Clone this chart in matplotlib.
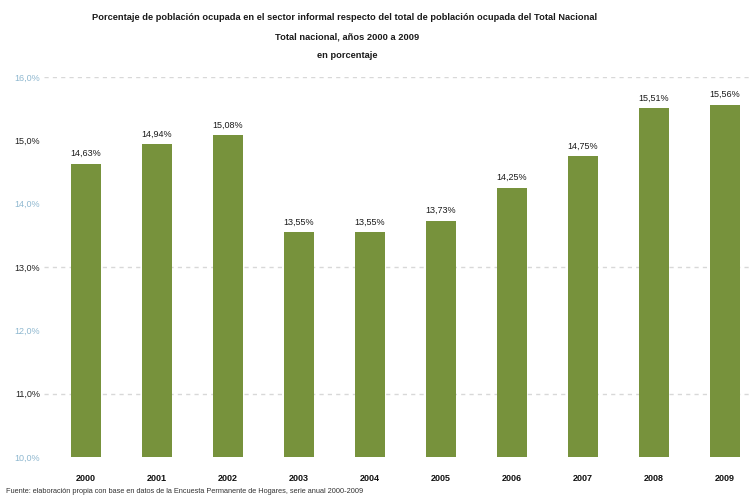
import matplotlib
matplotlib.use("Agg")
import matplotlib.pyplot as plt

years = ["2000", "2001", "2002", "2003", "2004", "2005", "2006", "2007", "2008", "2009"]
values = [14.63, 14.94, 15.08, 13.55, 13.55, 13.73, 14.25, 14.75, 15.51, 15.56]
y_ticks = [10, 11, 12, 13, 14, 15, 16]
grid_values = [11, 13, 16]

title_lines = [
    "Porcentaje de población ocupada en el sector informal respecto del total de población ocupada del Total Nacional",
    "Total nacional, años 2000 a 2009",
    "en porcentaje",
]
footnote = "Fuente: elaboración propia con base en datos de la Encuesta Permanente de Hogares, serie anual 2000-2009"

plt.rcParams['font.family'] = ['Liberation Sans', 'DejaVu Sans']

fig = plt.figure(figsize=(7.49, 4.98), dpi=100)
ax = fig.add_axes([44/749, 1-457/498, 1-44/749, (457-77)/498])

x = list(range(len(years)))
ax.bar(x, values, width=0.42, color='#77923c', zorder=3)
for xi, v in zip(x, values):
    ax.annotate(f"{v:.2f}%".replace('.', ','), (xi, v), xytext=(0, 4),
                textcoords='offset points', ha='center', va='bottom',
                fontsize=6.5, color='#1a1a1a')

ax.set_xlim(-0.59, 9.34)
ax.set_ylim(y_ticks[0], y_ticks[-1])
ax.set_yticks(y_ticks)
ax.set_yticklabels([f"{t:.1f}%".replace('.', ',') for t in y_ticks], fontsize=6.5)
for i, lab in enumerate(ax.get_yticklabels()):
    lab.set_color('#222222' if i % 2 == 1 else '#8fb8d0')
for g in grid_values:
    ax.axhline(g, color='#d8d8d8', lw=1.0, ls=(0, (3, 3)), zorder=1)
ax.set_xticks(x)
ax.set_xticklabels(years, fontsize=6.5, color='#111111', fontweight='bold')
ax.tick_params(axis='both', length=0)
ax.tick_params(axis='x', pad=12)
ax.tick_params(axis='y', pad=3)
for s in ax.spines.values():
    s.set_visible(False)

fig.text(345/749, 1-18/498, title_lines[0], ha='center', va='center', fontsize=6.7, fontweight='bold', color='#1a1a1a')
fig.text(347/749, 1-37/498, title_lines[1], ha='center', va='center', fontsize=6.7, fontweight='bold', color='#1a1a1a')
fig.text(347/749, 1-56/498, title_lines[2], ha='center', va='center', fontsize=6.7, fontweight='bold', color='#1a1a1a')
fig.text(6/749, 1-491/498, footnote, ha='left', va='center', fontsize=5.3, color='#333333')

fig.savefig("out.png", dpi=100)
